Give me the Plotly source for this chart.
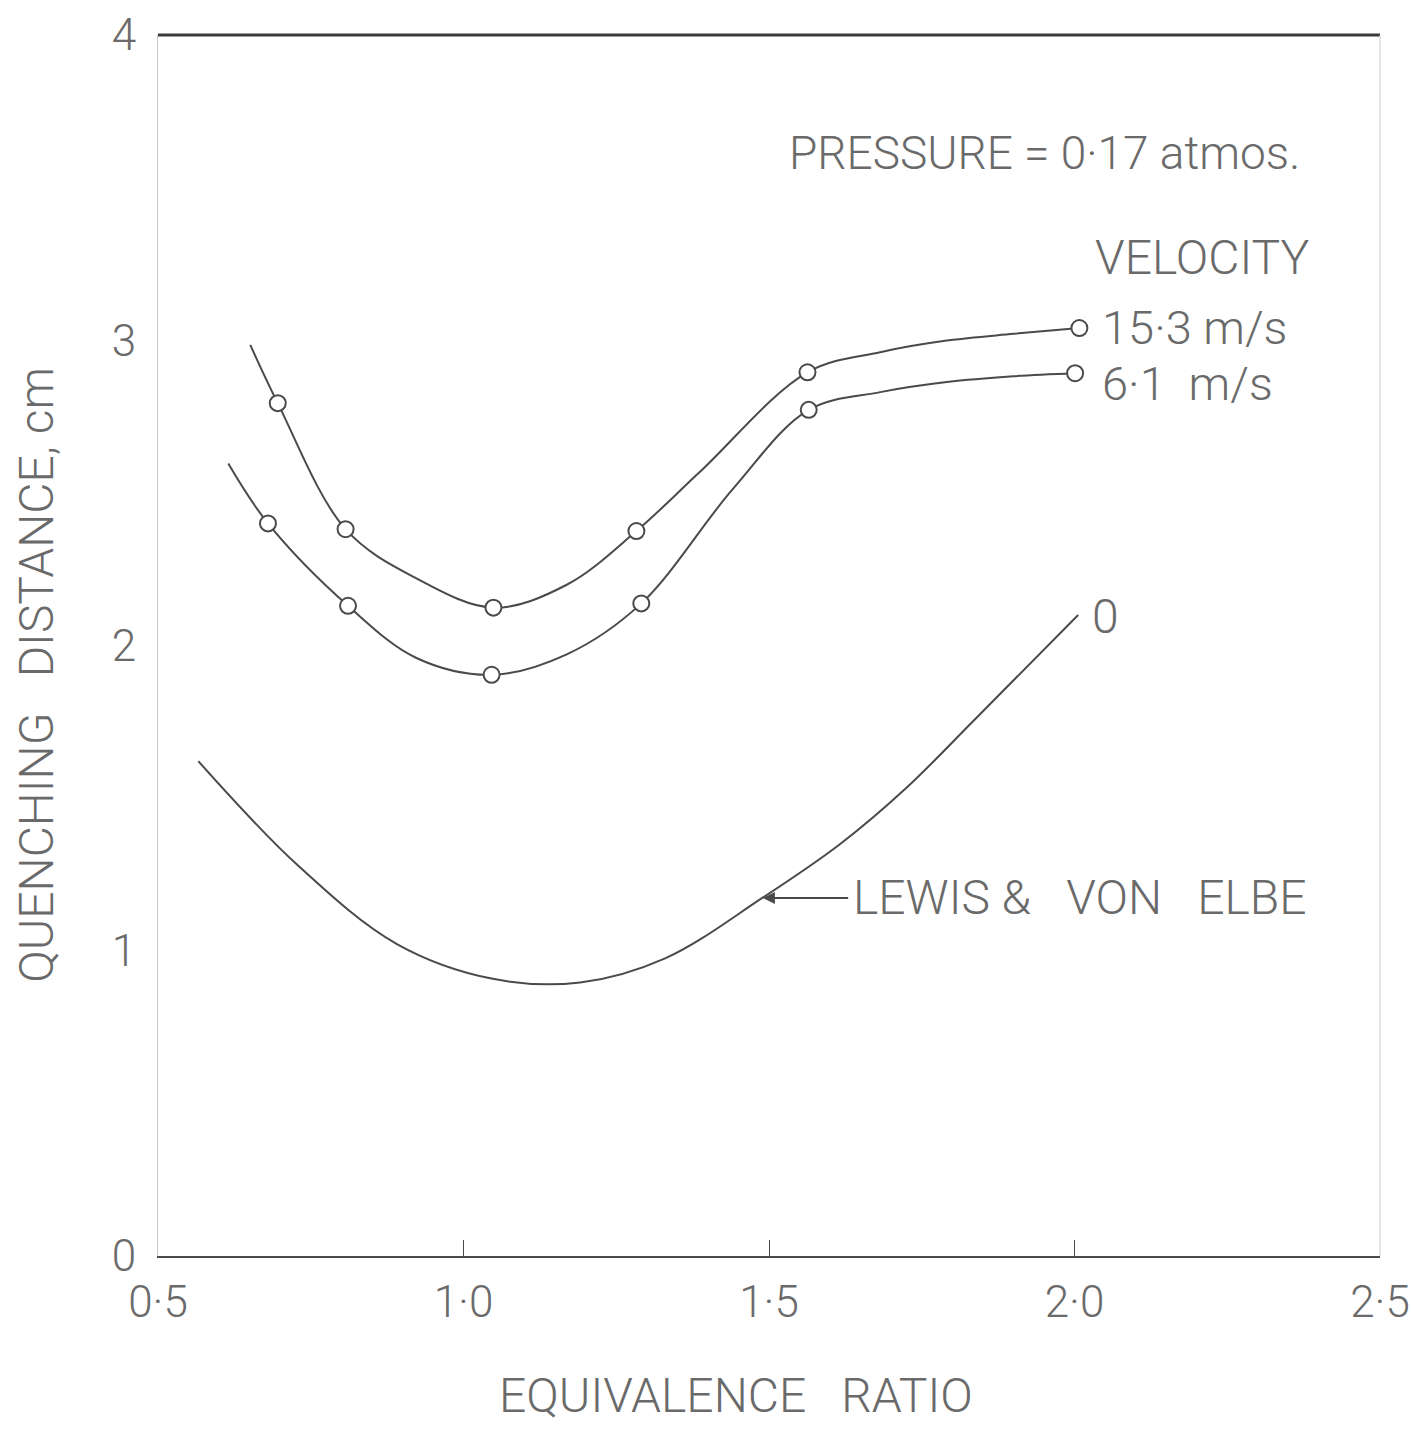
import plotly.graph_objects as go

# Measured points (open circles)
v153_x = [0.696, 0.807, 1.049, 1.283, 1.563, 2.008]
v153_y = [2.794, 2.381, 2.124, 2.375, 2.895, 3.040]
v61_x = [0.680, 0.811, 1.046, 1.291, 1.565, 2.001]
v61_y = [2.400, 2.130, 1.904, 2.138, 2.772, 2.892]

# Faired curves
c153_x = [0.651, 0.696, 0.807, 0.923, 1.049, 1.169, 1.283, 1.387, 1.563, 1.682, 1.791, 1.900, 2.008]
c153_y = [2.985, 2.794, 2.381, 2.220, 2.124, 2.199, 2.375, 2.569, 2.895, 2.961, 2.999, 3.021, 3.040]
c61_x = [0.615, 0.680, 0.811, 0.923, 1.046, 1.169, 1.291, 1.441, 1.565, 1.682, 1.791, 1.900, 2.001]
c61_y = [2.596, 2.400, 2.130, 1.959, 1.904, 1.971, 2.138, 2.513, 2.772, 2.830, 2.863, 2.882, 2.892]
lewis_x = [0.566, 0.727, 0.891, 1.048, 1.191, 1.330, 1.489, 1.616, 1.725, 1.834, 2.006]
lewis_y = [1.621, 1.283, 1.022, 0.908, 0.896, 0.975, 1.173, 1.349, 1.534, 1.752, 2.100]

x_ticks = [0.5, 1.0, 1.5, 2.0, 2.5]
x_tick_text = ["0·5", "1·0", "1·5", "2·0", "2·5"]
y_ticks = [0, 1, 2, 3, 4]
y_tick_text = ["0", "1", "2", "3", "4"]

LINE = "#4a4a4a"
TEXT = "#6a6a6a"
FONT = "Roboto, Liberation Sans, sans-serif"

fig = go.Figure()
for cx, cy in [(c153_x, c153_y), (c61_x, c61_y), (lewis_x, lewis_y)]:
    fig.add_trace(go.Scatter(x=cx, y=cy, mode="lines",
                             line=dict(color=LINE, width=2, shape="spline", smoothing=1.0),
                             showlegend=False, hoverinfo="skip"))
for mx, my in [(v153_x, v153_y), (v61_x, v61_y)]:
    fig.add_trace(go.Scatter(x=mx, y=my, mode="markers",
                             marker=dict(symbol="circle", size=16, color="white",
                                         line=dict(color=LINE, width=2)),
                             showlegend=False))

font_main = dict(family=FONT, size=48, color=TEXT, weight=300)

ann = [
    dict(x=1.529, y=3.614, text="PRESSURE = 0·17 atmos.", size=46),
    dict(x=2.030, y=3.271, text="VELOCITY", size=48),
    dict(x=2.042, y=3.042, text="15·3 m/s", size=47),
    dict(x=2.042, y=2.859, text="6·1&nbsp; m/s", size=47),
    dict(x=2.025, y=2.095, text="0", size=48),
    dict(x=1.634, y=1.173, text="LEWIS &amp;&nbsp;&nbsp; VON&nbsp;&nbsp; ELBE", size=48),
]
for a in ann:
    fig.add_annotation(x=a["x"], y=a["y"], text=a["text"], xanchor="left",
                       yanchor="middle", showarrow=False,
                       font=dict(family=FONT, size=a["size"], color=TEXT, weight=300),
                       xref="x", yref="y")

# arrow to Lewis & von Elbe curve
fig.add_annotation(x=1.490, y=1.173, ax=1.632, ay=1.173, xref="x", yref="y",
                   axref="x", ayref="y", text="", showarrow=True,
                   arrowhead=2, arrowsize=1.2, arrowwidth=2, arrowcolor=LINE)

# axis titles
fig.add_annotation(x=0.473, y=-0.114, xref="paper", yref="paper",
                   text="EQUIVALENCE&nbsp;&nbsp; RATIO", showarrow=False,
                   font=font_main, xanchor="center", yanchor="middle")
fig.add_annotation(x=-0.099, y=0.476, xref="paper", yref="paper",
                   text="QUENCHING&nbsp;&nbsp; DISTANCE, cm", showarrow=False, textangle=-90,
                   font=font_main, xanchor="center", yanchor="middle")

# top (heavy) and right (faint) frame lines
fig.add_shape(type="line", xref="paper", yref="paper", x0=0, x1=1, y0=1, y1=1,
              line=dict(color="#3a3a3a", width=3))
fig.add_shape(type="line", xref="paper", yref="paper", x0=1, x1=1, y0=0, y1=1,
              line=dict(color="#cfcfcf", width=1))

fig.update_layout(
    width=1411, height=1441,
    margin=dict(l=158, r=31, t=35, b=185),
    paper_bgcolor="white", plot_bgcolor="white",
    showlegend=False,
    xaxis=dict(range=[0.5, 2.5], tickvals=x_ticks, ticktext=x_tick_text,
               showgrid=False, zeroline=False, showline=True, linecolor=LINE,
               linewidth=2, ticks="inside", ticklen=16, tickcolor=LINE, tickwidth=1,
               tickfont=dict(family=FONT, size=44, color=TEXT, weight=300),
               ticklabelstandoff=6, automargin=False),
    yaxis=dict(range=[0, 4], tickvals=y_ticks, ticktext=y_tick_text,
               showgrid=False, zeroline=False, showline=True, linecolor="#c8c8c8",
               linewidth=1, ticks="",
               tickfont=dict(family=FONT, size=44, color=TEXT, weight=300),
               ticklabelstandoff=12, automargin=False),
)

fig.write_html("out.html")
